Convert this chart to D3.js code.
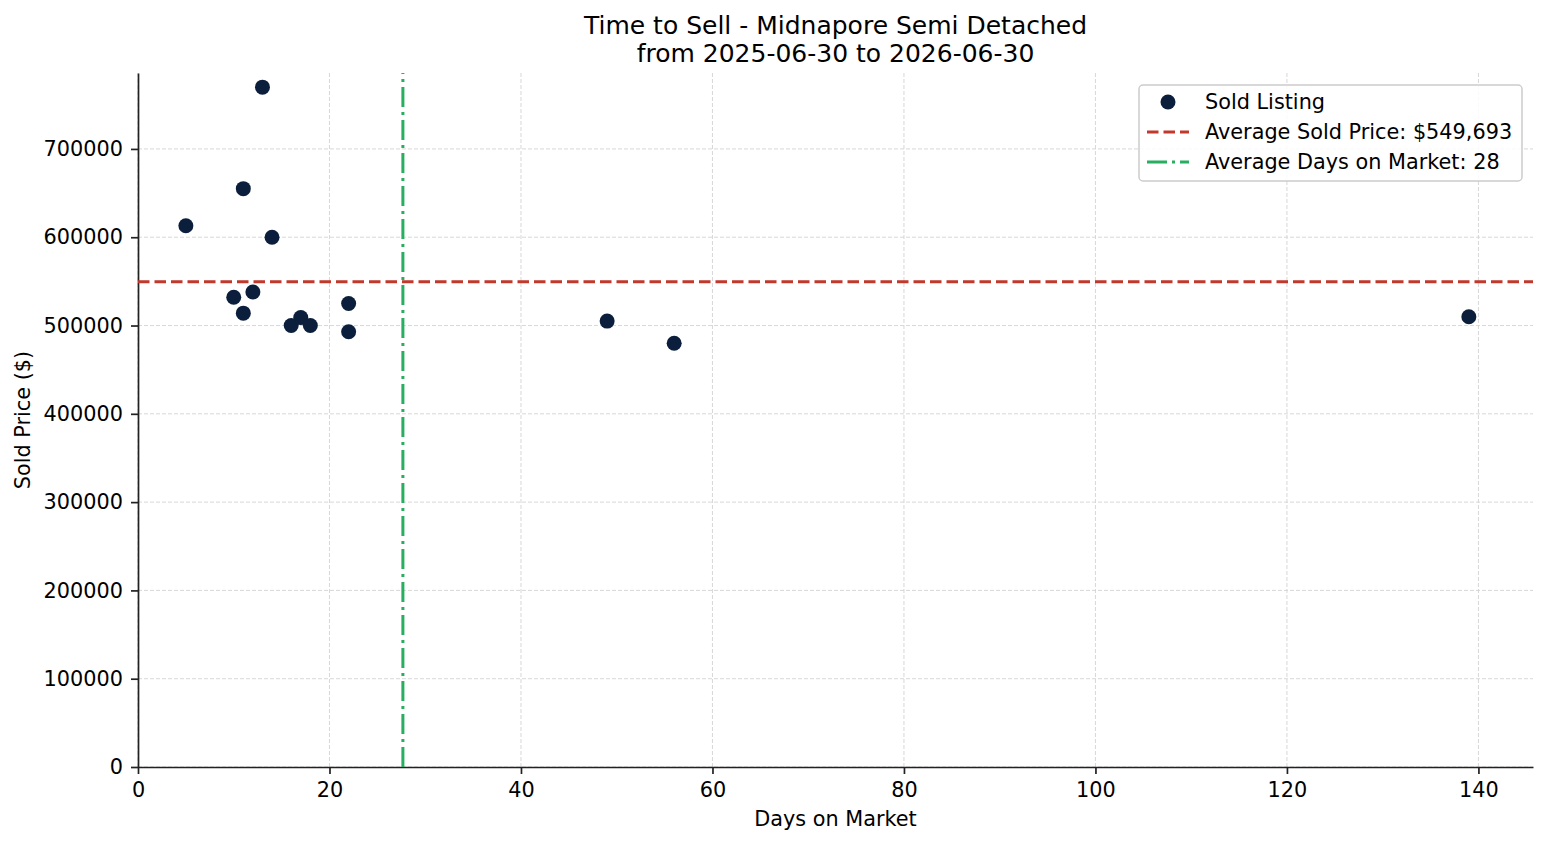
<!DOCTYPE html>
<html>
<head>
<meta charset="utf-8">
<script src="https://cdn.jsdelivr.net/npm/d3@7"></script>
<style>
  body { margin: 0; background: #fff; }
  svg text { font-family: "DejaVu Sans", sans-serif; fill: #000; }
</style>
</head>
<body>
<div id="chart"></div>
<script>
// data
const daysOnMarket = [5, 10, 11, 11, 12, 13, 14, 16, 17, 18, 22, 22, 49, 56, 139];
const soldPrices = [613000, 532000, 655000, 514000, 538000, 770000, 600000, 500000, 509000, 500000, 525000, 493000, 505000, 480000, 510000];
const avgSoldPrice = 549693;
const xTicks = [0, 20, 40, 60, 80, 100, 120, 140];
const yTicks = [0, 100000, 200000, 300000, 400000, 500000, 600000, 700000];
const yMax = 786000;
const titleLines = ["Time to Sell - Midnapore Semi Detached", "from 2025-06-30 to 2026-06-30"];

const width = 1547, height = 845;
const margin = { top: 73, right: 14, bottom: 78, left: 138 };

const avgDays = d3.mean(daysOnMarket);
const points = daysOnMarket.map((d, i) => ({ days: d, price: soldPrices[i] }));

const navy = "#0b1f3c", red = "#c0392b", green = "#27ae60";
const fs = "20.8px";

const svg = d3.select("#chart").append("svg")
    .attr("width", width)
    .attr("height", height);

// matplotlib style 5% margin on x, clipped at 0
const xExt = d3.extent(daysOnMarket);
const x = d3.scaleLinear()
    .domain([0, xExt[1] + (xExt[1] - xExt[0]) * 0.05])
    .range([margin.left, width - margin.right]);

const y = d3.scaleLinear()
    .domain([0, yMax])
    .range([height - margin.bottom, margin.top]);

// grid
svg.append("g").selectAll("line")
    .data(xTicks)
    .enter().append("line")
    .attr("x1", d => x(d)).attr("x2", d => x(d))
    .attr("y1", y.range()[0]).attr("y2", y.range()[1])
    .attr("stroke", "#d4d4d4").attr("stroke-width", 0.9)
    .attr("stroke-dasharray", "4,2");

svg.append("g").selectAll("line")
    .data(yTicks)
    .enter().append("line")
    .attr("x1", x.range()[0]).attr("x2", x.range()[1])
    .attr("y1", d => y(d)).attr("y2", d => y(d))
    .attr("stroke", "#d4d4d4").attr("stroke-width", 0.9)
    .attr("stroke-dasharray", "4,2");

// axes
const xAxis = svg.append("g")
    .attr("transform", `translate(0,${height - margin.bottom})`)
    .call(d3.axisBottom(x).tickValues(xTicks).tickSize(7).tickPadding(8).tickSizeOuter(0));

const yAxis = svg.append("g")
    .attr("transform", `translate(${margin.left},0)`)
    .call(d3.axisLeft(y).tickValues(yTicks).tickFormat(d3.format("d")).tickSize(7).tickPadding(8).tickSizeOuter(0));

[xAxis, yAxis].forEach(a => {
    a.select(".domain").attr("stroke", "#222").attr("stroke-width", 1.7);
    a.selectAll(".tick line").attr("stroke", "#222").attr("stroke-width", 1.7);
    a.selectAll(".tick text").attr("font-size", fs).attr("font-family", "DejaVu Sans").attr("fill", "#000");
});

// average lines
svg.append("line")
    .attr("x1", x.range()[0]).attr("x2", x.range()[1])
    .attr("y1", y(avgSoldPrice)).attr("y2", y(avgSoldPrice))
    .attr("stroke", red).attr("stroke-width", 3)
    .attr("stroke-dasharray", "11.5,5");

svg.append("line")
    .attr("x1", x(avgDays)).attr("x2", x(avgDays))
    .attr("y1", y.range()[0]).attr("y2", y.range()[1])
    .attr("stroke", green).attr("stroke-width", 3)
    .attr("stroke-dasharray", "20,5,3,5");

// points
svg.append("g").selectAll("circle")
    .data(points)
    .enter().append("circle")
    .attr("cx", d => x(d.days))
    .attr("cy", d => y(d.price))
    .attr("r", 7.5)
    .attr("fill", navy);

// titles
svg.append("g").selectAll("text")
    .data(titleLines)
    .enter().append("text")
    .attr("x", (margin.left + width - margin.right) / 2)
    .attr("y", (d, i) => 34 + i * 28)
    .attr("text-anchor", "middle")
    .attr("font-size", "25px")
    .text(d => d);

svg.append("text")
    .attr("x", (margin.left + width - margin.right) / 2)
    .attr("y", 826)
    .attr("text-anchor", "middle")
    .attr("font-size", fs)
    .text("Days on Market");

svg.append("text")
    .attr("transform", `translate(30,${(margin.top + height - margin.bottom) / 2}) rotate(-90)`)
    .attr("text-anchor", "middle")
    .attr("font-size", fs)
    .text("Sold Price ($)");

// legend
const legendItems = [
    { label: "Sold Listing", type: "dot" },
    { label: `Average Sold Price: $${d3.format(",")(avgSoldPrice)}`, type: "dash" },
    { label: `Average Days on Market: ${Math.round(avgDays)}`, type: "dashdot" }
];

const legend = svg.append("g").attr("transform", "translate(1139,85)");
legend.append("rect")
    .attr("width", 383).attr("height", 96)
    .attr("rx", 4)
    .attr("fill", "#fff").attr("fill-opacity", 0.85)
    .attr("stroke", "#cccccc").attr("stroke-width", 1.5);

const rows = legend.selectAll(".legend-row")
    .data(legendItems)
    .enter().append("g")
    .attr("transform", (d, i) => `translate(0,${17 + i * 30})`);

rows.filter(d => d.type === "dot").append("circle")
    .attr("cx", 29).attr("cy", 0).attr("r", 7.5).attr("fill", navy);
rows.filter(d => d.type === "dash").append("line")
    .attr("x1", 8).attr("x2", 50).attr("y1", 0).attr("y2", 0)
    .attr("stroke", red).attr("stroke-width", 3).attr("stroke-dasharray", "11.5,5");
rows.filter(d => d.type === "dashdot").append("line")
    .attr("x1", 8).attr("x2", 50).attr("y1", 0).attr("y2", 0)
    .attr("stroke", green).attr("stroke-width", 3).attr("stroke-dasharray", "20,5,3,5");

rows.append("text")
    .attr("x", 66).attr("y", 0)
    .attr("dy", "0.35em")
    .attr("font-size", fs)
    .text(d => d.label);
</script>
</body>
</html>
